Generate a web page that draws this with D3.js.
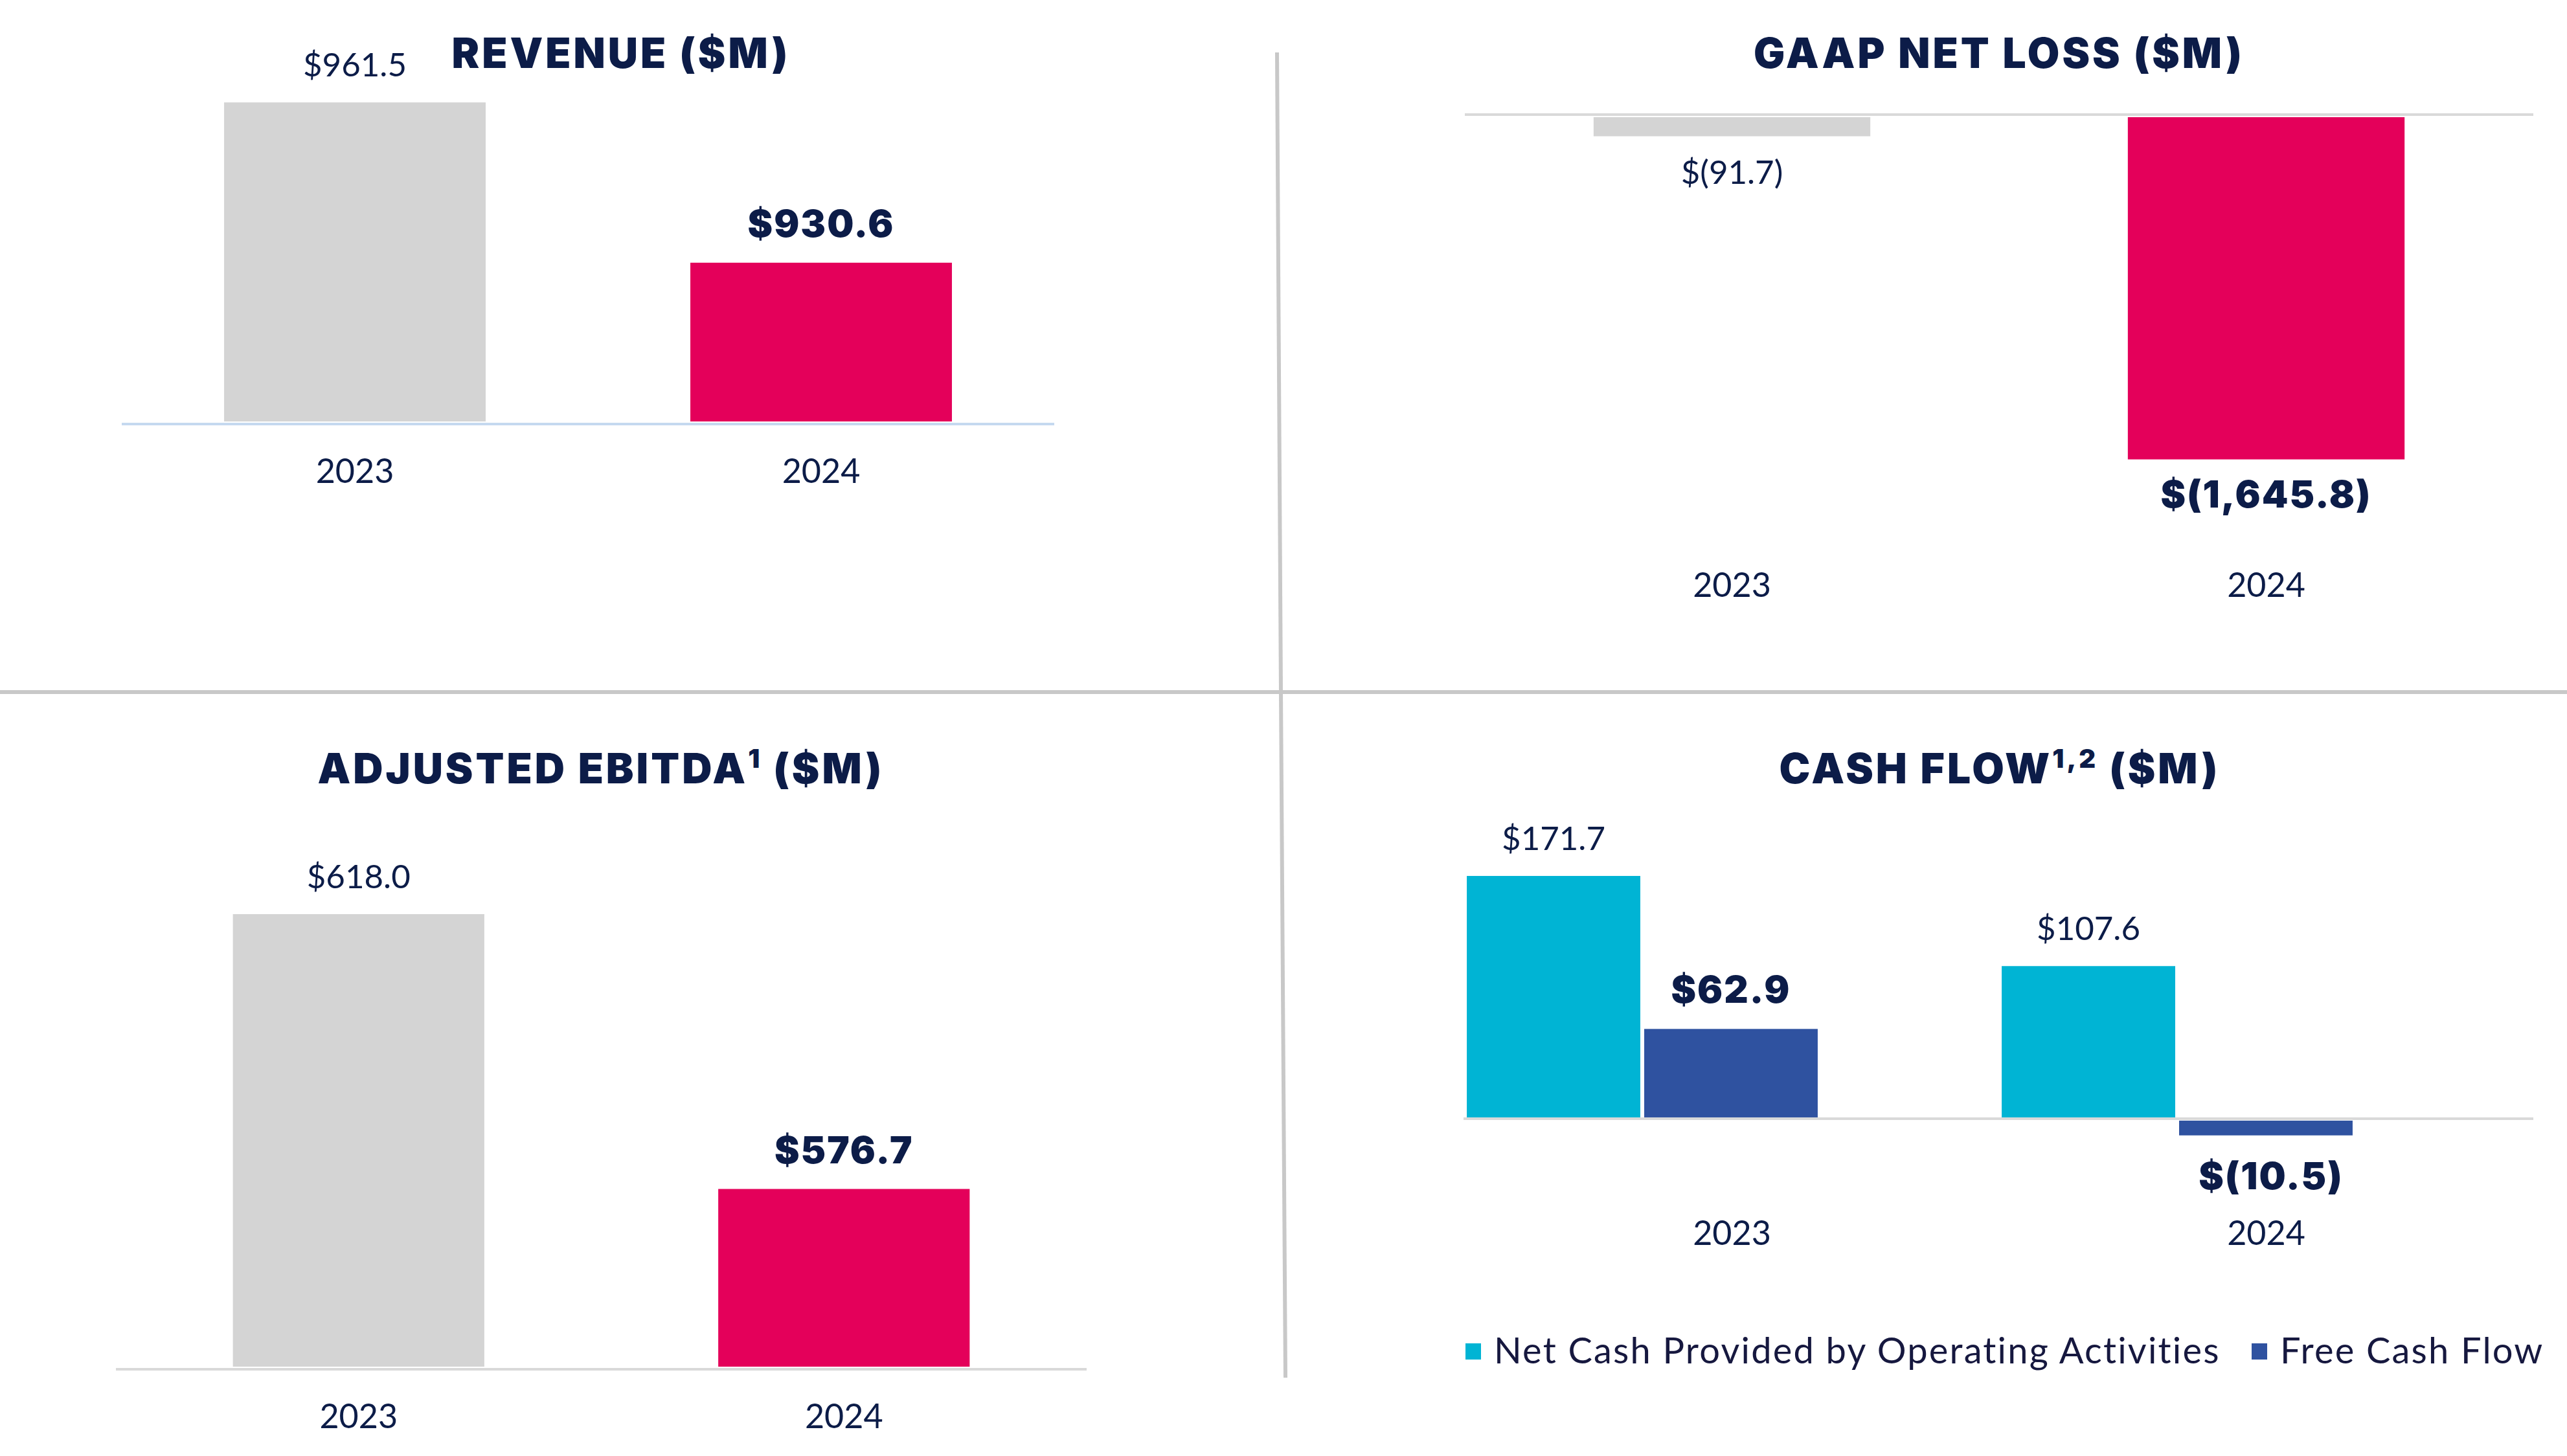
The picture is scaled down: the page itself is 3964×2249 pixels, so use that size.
<!DOCTYPE html>
<html><head><meta charset="utf-8">
<script src="https://cdn.jsdelivr.net/npm/d3@7"></script>
<style>body{margin:0;background:#fff}svg{display:block}</style>
</head><body><svg id="c" width="3964" height="2249"></svg>
<script>
// ---- data ----
const years = ["2023", "2024"];
const revenue = [961.5, 930.6];
const gaapNetLoss = [-91.7, -1645.8];
const adjustedEbitda = [618.0, 576.7];
const cashSeries = ["Net Cash Provided by Operating Activities", "Free Cash Flow"];
const netCashOperating = [171.7, 107.6];
const freeCashFlow = [62.9, -10.5];

// ---- style ----
const NAVY = "#0c1c48", PINK = "#e4005a", GREY = "#d4d4d4", CYAN = "#00b4d4", BLUE = "#2f52a0";
const TITLE_FONT = "Inter, 'Open Sans', sans-serif";
const TEXT_FONT = "Lato, 'Open Sans', sans-serif";
const yearColor = {"2023": GREY, "2024": PINK};
const fmt = v => v < 0 ? "$(" + d3.format(",.1f")(-v) + ")" : "$" + d3.format(",.1f")(v);

const svg = d3.select("#c");
svg.append("rect").attr("width", 3964).attr("height", 2249).attr("fill", "#fff");

// dividers
const dv = svg.append("g").attr("stroke", "#c8c8c8").attr("stroke-width", 6);
dv.append("line").attr("x1", 0).attr("x2", 3964).attr("y1", 1069).attr("y2", 1069);
dv.append("line").attr("x1", 1972).attr("x2", 1978).attr("y1", 81).attr("y2", 1069);
dv.append("line").attr("x1", 1978).attr("x2", 1985).attr("y1", 1069).attr("y2", 2128);

function title(g, x, y, main, sup, tail) {
  const t = g.append("text").attr("x", x).attr("y", y).attr("text-anchor", "middle")
    .attr("font-family", TITLE_FONT).attr("font-weight", 900).attr("font-size", 64)
    .attr("letter-spacing", 4).attr("fill", NAVY);
  t.append("tspan").text(main);
  if (sup) {
    t.append("tspan").attr("font-size", 40).attr("dy", -24).text(sup);
    t.append("tspan").attr("dy", 24).text(tail);
  }
}

function valueLabel(g, x, y, v, bold) {
  g.append("text").attr("x", x).attr("y", y).attr("text-anchor", "middle")
    .attr("font-family", bold ? TITLE_FONT : TEXT_FONT)
    .attr("font-weight", bold ? 900 : 400)
    .attr("font-size", bold ? 58 : 51)
    .attr("letter-spacing", bold ? 2 : 0)
    .attr("fill", NAVY).text(fmt(v));
}

function yearAxis(g, scale, y) {
  g.append("g").selectAll("text").data(years).join("text")
    .attr("x", d => scale(d) + scale.bandwidth() / 2).attr("y", y)
    .attr("text-anchor", "middle").attr("font-family", TEXT_FONT)
    .attr("font-size", 52).attr("fill", NAVY).text(d => d);
}

// ---- Panel 1: Revenue ----
{
  const g = svg.append("g");
  const x = d3.scaleBand().domain(years).range([188, 1628]).paddingInner(0.439).paddingOuter(0.2195);
  const y = d3.scaleLinear().domain([900, 975]).range([651, 50]);
  const data = years.map((d, i) => ({year: d, v: revenue[i]}));
  g.selectAll("rect").data(data).join("rect")
    .attr("x", d => x(d.year)).attr("width", x.bandwidth())
    .attr("y", d => y(d.v)).attr("height", d => y(900) - y(d.v))
    .attr("fill", d => yearColor[d.year]);
  g.append("line").attr("x1", 188).attr("x2", 1628).attr("y1", 655).attr("y2", 655)
    .attr("stroke", "#c5d9f0").attr("stroke-width", 4);
  data.forEach((d, i) => valueLabel(g, x(d.year) + x.bandwidth() / 2, y(d.v) - 40, d.v, i === 1));
  yearAxis(g, x, 746);
  title(g, 959, 105, "REVENUE ($M)");
}

// ---- Panel 2: GAAP Net Loss ----
{
  const g = svg.append("g");
  const x = d3.scaleBand().domain(years).range([2262, 3912]).paddingInner(0.482).paddingOuter(0.241);
  const y = d3.scaleLinear().domain([-1700, 0]).range([727, 181]);
  const data = years.map((d, i) => ({year: d, v: gaapNetLoss[i]}));
  g.append("line").attr("x1", 2262).attr("x2", 3912).attr("y1", 177).attr("y2", 177)
    .attr("stroke", "#d9d9d9").attr("stroke-width", 4);
  g.selectAll("rect").data(data).join("rect")
    .attr("x", d => x(d.year)).attr("width", x.bandwidth())
    .attr("y", y(0)).attr("height", d => y(d.v) - y(0))
    .attr("fill", d => yearColor[d.year]);
  data.forEach((d, i) => valueLabel(g, x(d.year) + x.bandwidth() / 2, y(d.v) + 74, d.v, i === 1));
  yearAxis(g, x, 922);
  title(g, 3087, 105, "GAAP NET LOSS ($M)");
}

// ---- Panel 3: Adjusted EBITDA ----
{
  const g = svg.append("g");
  const x = d3.scaleBand().domain(years).range([179, 1678]).paddingInner(0.482).paddingOuter(0.241);
  const y = d3.scaleLinear().domain([550, 620]).range([2111, 1391.4]);
  const data = years.map((d, i) => ({year: d, v: adjustedEbitda[i]}));
  g.selectAll("rect").data(data).join("rect")
    .attr("x", d => x(d.year)).attr("width", x.bandwidth())
    .attr("y", d => y(d.v)).attr("height", d => y(550) - y(d.v))
    .attr("fill", d => yearColor[d.year]);
  g.append("line").attr("x1", 179).attr("x2", 1678).attr("y1", 2115).attr("y2", 2115)
    .attr("stroke", "#d9d9d9").attr("stroke-width", 4);
  data.forEach((d, i) => valueLabel(g, x(d.year) + x.bandwidth() / 2, y(d.v) - 40, d.v, i === 1));
  yearAxis(g, x, 2206);
  title(g, 928, 1210, "ADJUSTED EBITDA", "1", " ($M)");
}

// ---- Panel 4: Cash Flow ----
{
  const g = svg.append("g");
  const xg = d3.scaleBand().domain(years).range([2123, 3775]).paddingInner(0.344).paddingOuter(0.172);
  const xi = d3.scaleBand().domain(cashSeries).range([0, xg.bandwidth()]).paddingInner(0.022);
  const xl = d3.scaleBand().domain(years).range([2262, 3912]).paddingInner(0.482).paddingOuter(0.241);
  const y = d3.scaleLinear().domain([-20, 180]).range([1769.4, 1335]);
  const seriesColor = {[cashSeries[0]]: CYAN, [cashSeries[1]]: BLUE};
  const data = [];
  years.forEach((yr, i) => {
    data.push({year: yr, s: cashSeries[0], v: netCashOperating[i]});
    data.push({year: yr, s: cashSeries[1], v: freeCashFlow[i]});
  });
  g.append("line").attr("x1", 2260).attr("x2", 3912).attr("y1", 1728).attr("y2", 1728)
    .attr("stroke", "#d9d9d9").attr("stroke-width", 4);
  g.selectAll("rect").data(data).join("rect")
    .attr("x", d => xg(d.year) + xi(d.s)).attr("width", xi.bandwidth())
    .attr("y", d => d.v >= 0 ? y(d.v) : y(0) + 5)
    .attr("height", d => Math.abs(y(d.v) - y(0)))
    .attr("fill", d => seriesColor[d.s]);
  data.forEach(d => {
    const cx = xg(d.year) + xi(d.s) + xi.bandwidth() / 2;
    valueLabel(g, cx + (d.v < 0 ? 8 : 0), d.v >= 0 ? y(d.v) - 40 : y(d.v) + 88, d.v, d.s === cashSeries[1]);
  });
  yearAxis(g, xl, 1923);
  title(g, 3088, 1210, "CASH FLOW", "1,2", "  ($M)");
  // legend
  const legX = [2263, 3477];
  cashSeries.forEach((s, i) => {
    g.append("rect").attr("x", legX[i]).attr("y", 2075).attr("width", 24).attr("height", 25)
      .attr("fill", seriesColor[s]);
    g.append("text").attr("x", legX[i] + 44).attr("y", 2106)
      .attr("font-family", TEXT_FONT).attr("font-size", 56).attr("letter-spacing", 2.2)
      .attr("fill", "#16183f").text(s);
  });
}
</script></body></html>
